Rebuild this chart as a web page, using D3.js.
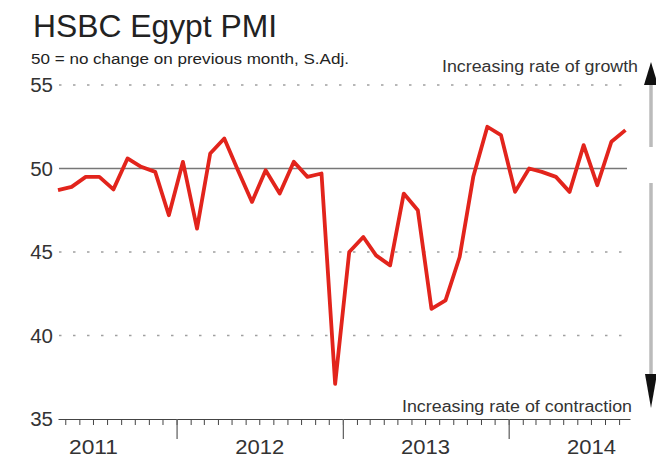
<!DOCTYPE html>
<html>
<head>
<meta charset="utf-8">
<script src="https://cdn.jsdelivr.net/npm/d3@7"></script>
<style>
  body { margin: 0; background: #fff; }
  text { font-family: 'Liberation Sans', Arial, sans-serif; }
</style>
</head>
<body>
<svg id="main"></svg>
<script>
const months = [
  '2011-04', '2011-05', '2011-06', '2011-07', '2011-08', '2011-09', '2011-10', '2011-11', '2011-12',
  '2012-01', '2012-02', '2012-03', '2012-04', '2012-05', '2012-06', '2012-07', '2012-08', '2012-09',
  '2012-10', '2012-11', '2012-12', '2013-01', '2013-02', '2013-03', '2013-04', '2013-05', '2013-06',
  '2013-07', '2013-08', '2013-09', '2013-10', '2013-11', '2013-12', '2014-01', '2014-02', '2014-03',
  '2014-04', '2014-05', '2014-06', '2014-07', '2014-08', '2014-09'
];
const pmi = [
  48.7, 48.9, 49.5, 49.5, 48.75, 50.6, 50.1, 49.8, 47.2,
  50.4, 46.4, 50.9, 51.8, 49.9, 48.0, 49.9, 48.5, 50.4,
  49.5, 49.7, 37.1, 45.0, 45.9, 44.8, 44.2, 48.5, 47.5,
  41.6, 42.1, 44.7, 49.5, 52.5, 52.0, 48.6, 50.0, 49.8,
  49.5, 48.6, 51.4, 49.0, 51.6, 52.3
];
const yTicks = [35, 40, 45, 50, 55];
const years = [2011, 2012, 2013, 2014];

const width = 656,
  height = 459;

const parseMonth = d3.timeParse('%Y-%m');
const data = months.map((m, i) => {
  const d = parseMonth(m);
  return { date: new Date(d.getFullYear(), d.getMonth(), 15), value: pmi[i] };
});

const svg = d3.select('#main')
  .attr('width', width)
  .attr('height', height);

const x = d3.scaleTime()
  .domain([new Date(2011, 3, 15), new Date(2014, 8, 25)])
  .range([58, 630]);

const y = d3.scaleLinear()
  .domain([35, 55])
  .range([419, 85]);

// grid
svg.selectAll('.grid')
  .data(yTicks.filter(t => t != 35 && t != 50))
  .enter()
  .append('line')
  .attr('class', 'grid')
  .attr('x1', 59)
  .attr('x2', 625)
  .attr('y1', d => y(d))
  .attr('y2', d => y(d))
  .attr('stroke', '#a0a0a0')
  .attr('stroke-width', 1.5)
  .attr('stroke-dasharray', '2.5,11.5');

svg.append('line')
  .attr('x1', 59)
  .attr('x2', 627)
  .attr('y1', y(50))
  .attr('y2', y(50))
  .attr('stroke', '#777')
  .attr('stroke-width', 1.3);

// y axis labels
svg.append('g')
  .attr('transform', 'translate(56,0)')
  .call(d3.axisLeft(y).tickValues(yTicks).tickSize(0).tickPadding(3))
  .call(g => g.select('.domain').remove())
  .selectAll('text')
  .attr('font-family', 'Liberation Sans, Arial, sans-serif')
  .attr('font-size', 20.5)
  .attr('fill', '#333');

// x axis: months, years, labels
svg.append('g')
  .attr('transform', `translate(0,${y(35)})`)
  .call(d3.axisBottom(x).ticks(d3.timeMonth.every(1)).tickFormat('').tickSize(6).tickSizeOuter(0))
  .call(g => g.selectAll('line, path').attr('stroke', '#444'));

svg.append('g')
  .attr('transform', `translate(0,${y(35)})`)
  .call(d3.axisBottom(x).ticks(d3.timeYear.every(1)).tickFormat('').tickSize(20))
  .call(g => g.select('.domain').remove())
  .call(g => g.selectAll('line').attr('stroke', '#666').attr('stroke-width', 1.3));

svg.append('g')
  .attr('transform', `translate(0,${y(35)})`)
  .call(d3.axisBottom(x)
    .tickValues(years.map(yr => new Date(yr, 6, 1)))
    .tickFormat(d3.timeFormat('%Y'))
    .tickSize(0)
    .tickPadding(21))
  .call(g => g.select('.domain').remove())
  .selectAll('text')
  .attr('font-family', 'Liberation Sans, Arial, sans-serif')
  .attr('font-size', 20)
  .attr('textLength', 49)
  .attr('lengthAdjust', 'spacingAndGlyphs')
  .attr('fill', '#333');

// PMI line
svg.append('path')
  .datum(data)
  .attr('fill', 'none')
  .attr('stroke', '#e2241c')
  .attr('stroke-width', 3.8)
  .attr('stroke-linejoin', 'round')
  .attr('d', d3.line().x(d => x(d.date)).y(d => y(d.value)));

// titles
svg.append('text')
  .text('HSBC Egypt PMI')
  .attr('x', 33)
  .attr('y', 37)
  .attr('font-size', 31)
  .attr('textLength', 244)
  .attr('lengthAdjust', 'spacingAndGlyphs')
  .attr('fill', '#222');

svg.append('text')
  .text('50 = no change on previous month, S.Adj.')
  .attr('x', 31)
  .attr('y', 64)
  .attr('font-size', 15.5)
  .attr('textLength', 318)
  .attr('lengthAdjust', 'spacingAndGlyphs')
  .attr('fill', '#222');

svg.append('text')
  .text('Increasing rate of growth')
  .attr('x', 442)
  .attr('y', 72)
  .attr('font-size', 16)
  .attr('textLength', 196)
  .attr('lengthAdjust', 'spacingAndGlyphs')
  .attr('fill', '#333');

svg.append('text')
  .text('Increasing rate of contraction')
  .attr('x', 402)
  .attr('y', 412)
  .attr('font-size', 16)
  .attr('textLength', 230)
  .attr('lengthAdjust', 'spacingAndGlyphs')
  .attr('fill', '#333');

// growth / contraction arrow
svg.append('line')
  .attr('x1', 651).attr('x2', 651)
  .attr('y1', 84).attr('y2', 147)
  .attr('stroke', '#bbb')
  .attr('stroke-width', 3.5);

svg.append('line')
  .attr('x1', 651).attr('x2', 651)
  .attr('y1', 183).attr('y2', 375)
  .attr('stroke', '#bbb')
  .attr('stroke-width', 3.5);

svg.append('path')
  .attr('d', 'M651,62L658,85L644,85Z')
  .attr('fill', '#111');

svg.append('path')
  .attr('d', 'M651,408L657,374L645,374Z')
  .attr('fill', '#111');
</script>
</body>
</html>
